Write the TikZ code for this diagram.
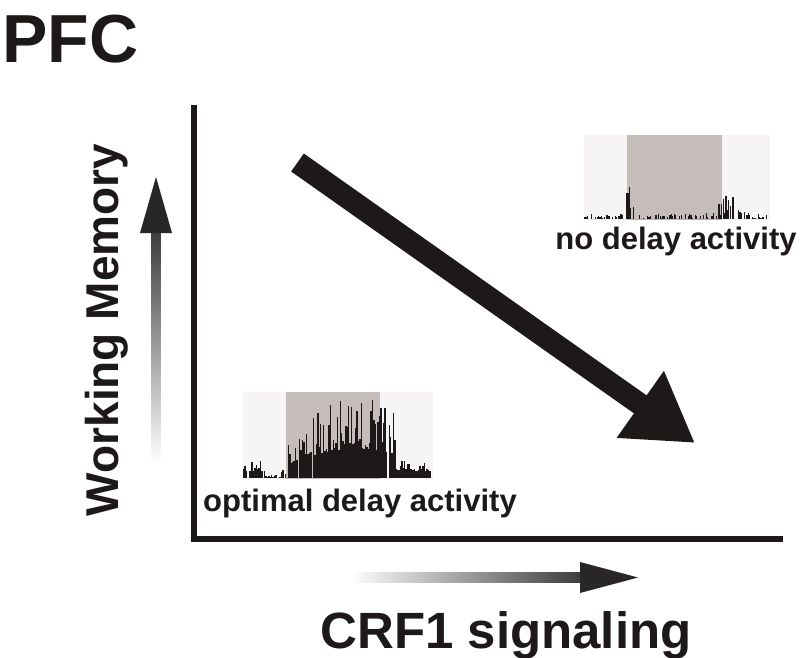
\documentclass[tikz,border=0pt]{standalone}
\usepackage{fontspec}
\setmainfont{Liberation Sans}
\usepackage{tikz}
\usetikzlibrary{arrows.meta}
\definecolor{inkblack}{RGB}{28,25,24}
\definecolor{histbg}{RGB}{246,244,244}
\definecolor{histgray}{RGB}{197,189,185}
\definecolor{gradark}{RGB}{40,38,38}

\begin{document}
\begin{tikzpicture}[x=1pt, y=-1pt,
    lbl/.style={inner sep=0pt, text=inkblack, font=\bfseries},
    axis/.style={line width=6pt, draw=inkblack},
    bigarrow/.style={line width=22pt, draw=inkblack, -{Triangle[length=67pt,width=77pt]}},
    bar/.style={fill=inkblack}]

    % page size and background
    \fill[white] (0,0) rectangle (800,658);
    \useasboundingbox (0,0) rectangle (800,658);

    % title and axis labels
    \node[lbl, anchor=base west, font=\fontsize{68}{70}\selectfont\bfseries] (title) at (2,63) {PFC};
    \node[lbl, anchor=base, rotate=90, font=\fontsize{46}{48}\selectfont\bfseries] (wm) at (118,330) {Working Memory};
    \node[lbl, anchor=base, font=\fontsize{51}{53}\selectfont\bfseries] (crf) at (506,648) {CRF1 signaling};

    % axes
    \coordinate (ytop) at (193.5,105);
    \coordinate (origin) at (193.5,539);
    \coordinate (xend) at (783,539);
    \draw[axis] (ytop) -- (origin) -- (xend);

    % gradient arrows beside the axes
    \shade[top color=gradark!90!white, bottom color=white]
        (151.5,463) rectangle (160.5,232);
    \fill[gradark] (140,233) -- (156,177) -- (172,233) -- cycle;
    \shade[left color=white, right color=gradark!90!white]
        (350,572.5) rectangle (581,582.5);
    \fill[gradark] (580,562) -- (638,577.5) -- (580,593) -- cycle;

    % main trend arrow
    \coordinate (hiwm) at (297.5,162.5);
    \coordinate (lowm) at (695,443);
    \draw[bigarrow] (hiwm) -- (lowm);

    \pgfmathsetseed{12}

    % histogram: optimal delay activity
    \fill[histbg] (243,392) rectangle (433,479);
    \fill[histgray] (286,392) rectangle (380,479);
    \foreach \i in {0,...,133}{
        \pgfmathsetmacro\bx{243+1.4*\i}
        \pgfmathsetmacro\env{ifthenelse(\bx<265,20,ifthenelse(\bx<280,3,ifthenelse(\bx<287,10,ifthenelse(\bx<395,42+42*sin(1.4*(\bx-290)),ifthenelse(\bx<430,20,0)))))}
        \pgfmathsetmacro\rr{rnd}
        \pgfmathsetmacro\bh{\env*(0.35+0.65*\rr*\rr)*(rnd>0.1)}
        \fill[bar] (\bx,478) rectangle ++(1.4,-\bh);
    }
    \node[lbl, anchor=base, font=\fontsize{31}{33}\selectfont\bfseries] (optlbl) at (360,511) {optimal delay activity};

    % histogram: no delay activity
    \fill[histbg] (584,135) rectangle (770,220);
    \fill[histgray] (627,135) rectangle (722,220);
    \foreach \i in {0,...,130}{
        \pgfmathsetmacro\bx{584+1.4*\i}
        \pgfmathsetmacro\env{5+28*exp(max(-12,-((\bx-628)/6)^2))+20*exp(max(-12,-((\bx-728)/12)^2))}
        \pgfmathsetmacro\bh{\env*(0.2+0.8*rnd)*(rnd>0.35)}
        \fill[bar] (\bx,219) rectangle ++(1.1,-\bh);
    }
    \node[lbl, anchor=base, font=\fontsize{31}{33}\selectfont\bfseries] (nolbl) at (676,249) {no delay activity};
\end{tikzpicture}
\end{document}
